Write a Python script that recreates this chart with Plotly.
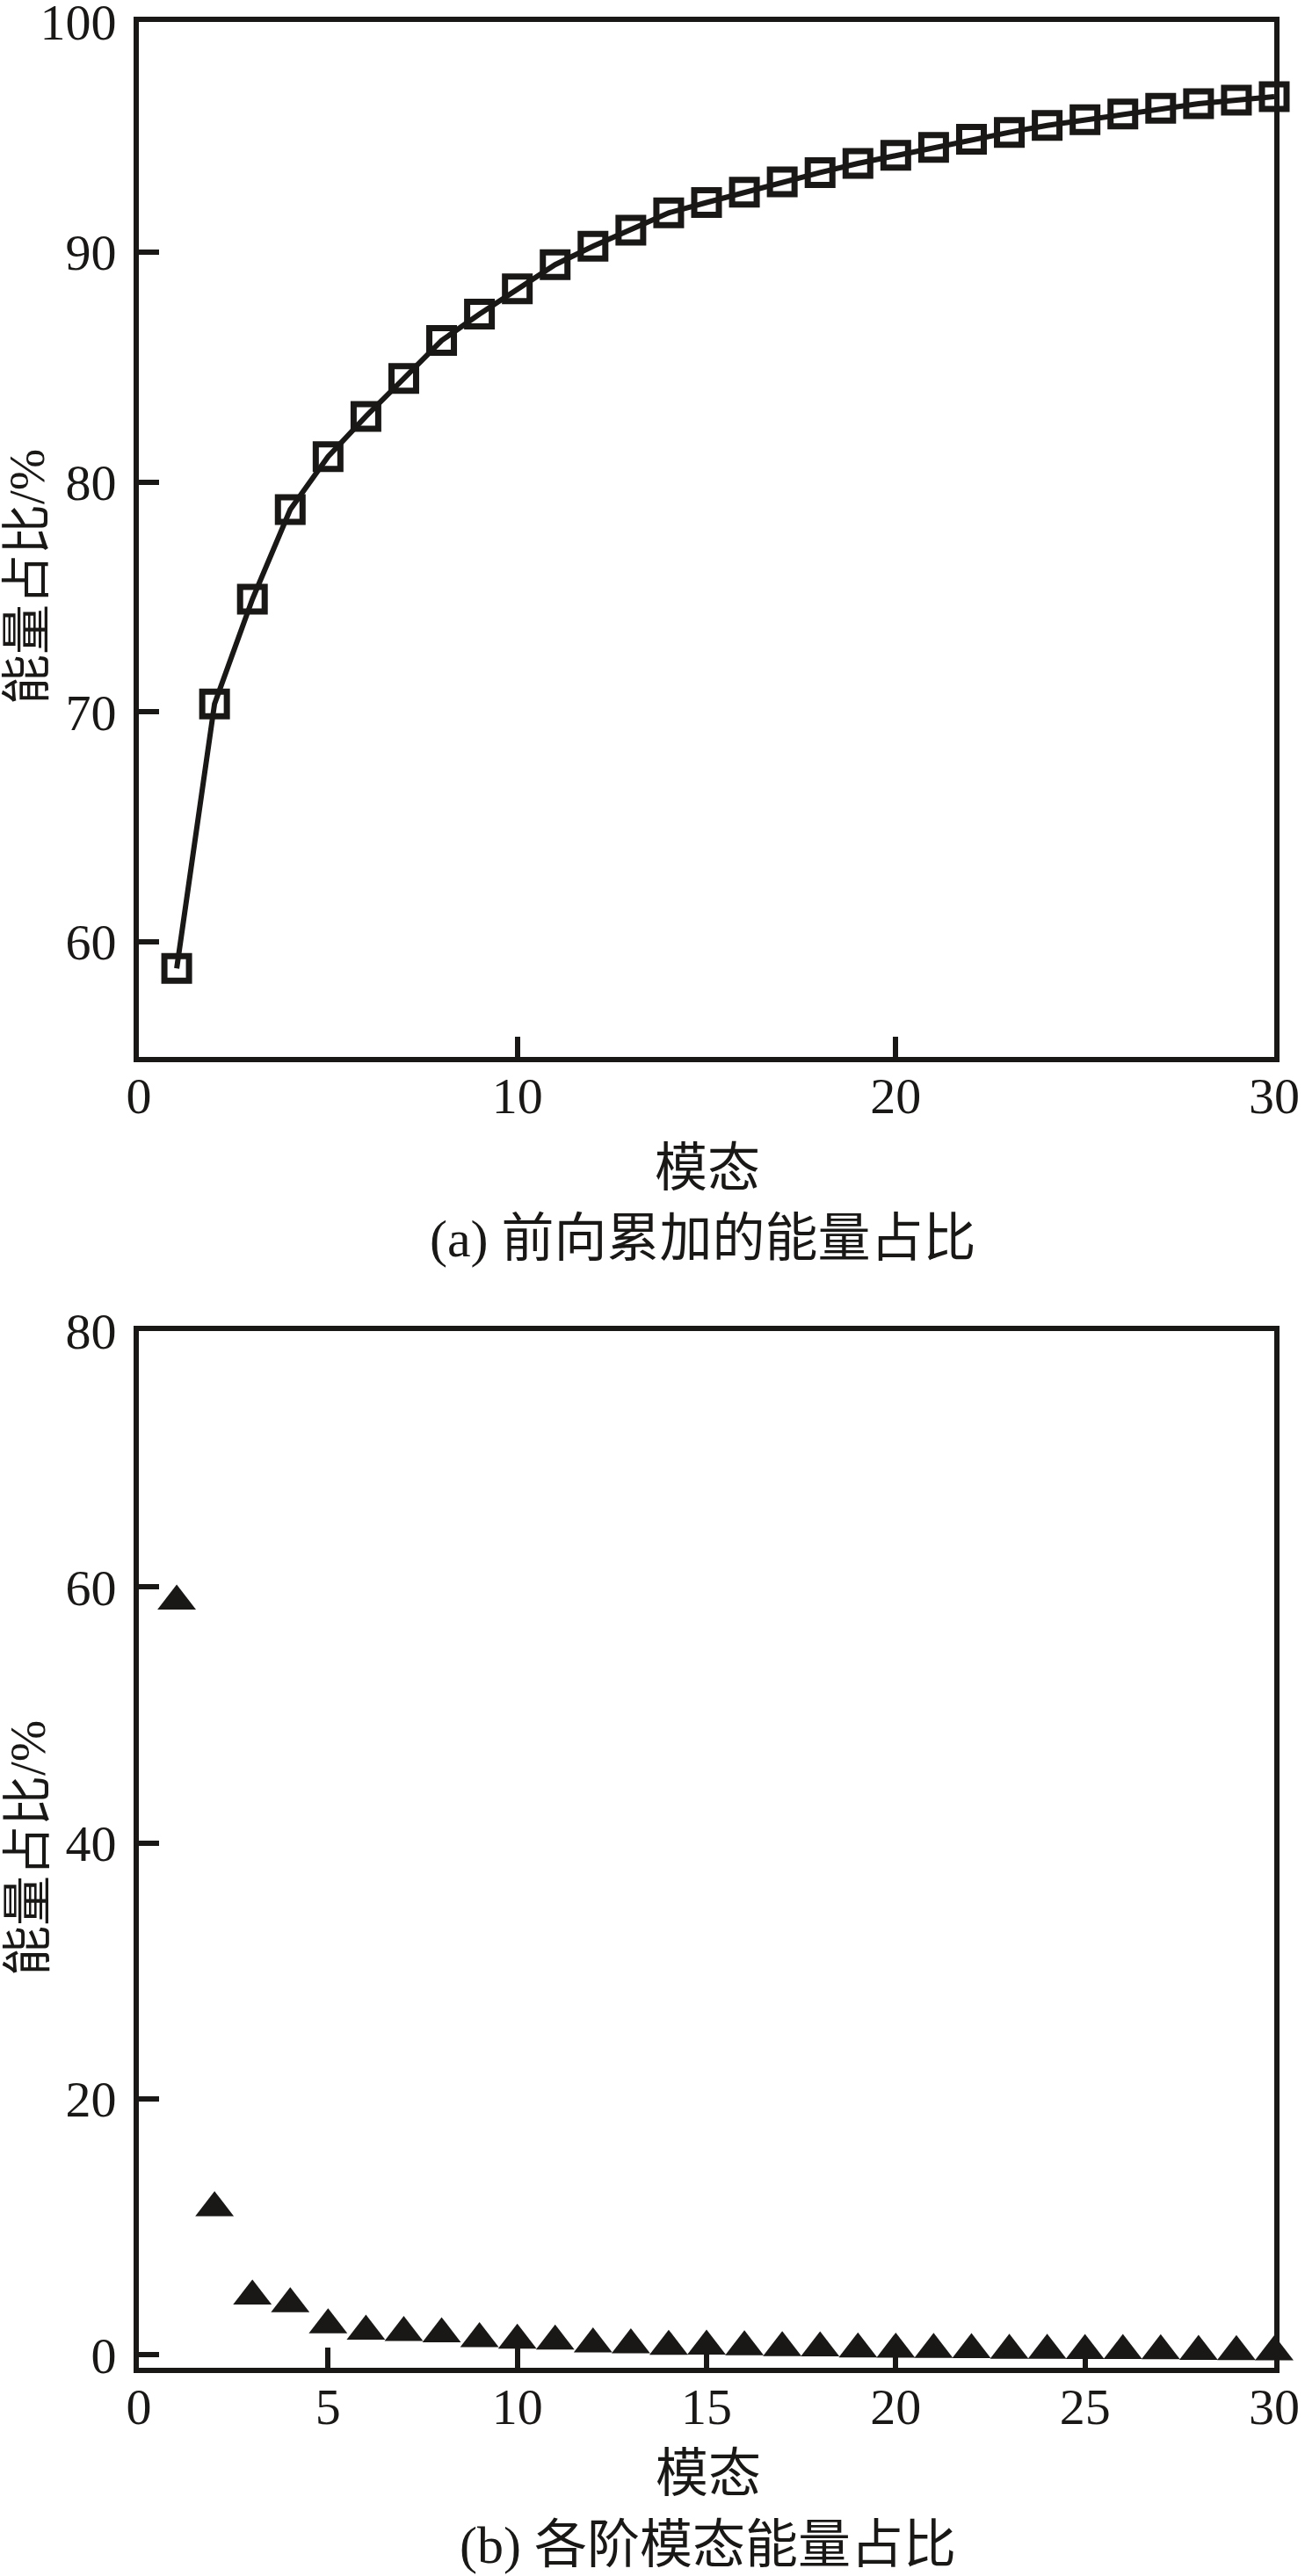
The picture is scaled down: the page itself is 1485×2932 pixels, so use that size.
import plotly.graph_objects as go

# ---------------- data ----------------
modes = list(range(1, 31))
cumulative_energy = [58.85, 70.35, 74.9, 78.8, 81.1, 82.85, 84.5, 86.15, 87.3, 88.4,
                     89.45, 90.25, 90.95, 91.7, 92.15, 92.6, 93.05, 93.45, 93.85, 94.2,
                     94.55, 94.9, 95.2, 95.5, 95.75, 96.0, 96.25, 96.45, 96.6, 96.75]
mode_energy = [58.9, 11.5, 4.6, 4.0, 2.35, 1.85, 1.75, 1.65, 1.26, 1.15,
               1.08, 0.86, 0.78, 0.67, 0.68, 0.63, 0.56, 0.55, 0.46, 0.45,
               0.42, 0.41, 0.36, 0.35, 0.34, 0.33, 0.32, 0.27, 0.25, 0.24]

top_yticks = [60, 70, 80, 90, 100]
top_xticks = [0, 10, 20, 30]
bot_yticks = [0, 20, 40, 60, 80]
bot_xticks = [0, 5, 10, 15, 20, 25, 30]

x_title = "模态"
y_title = "能量占比/%"
caption_a = "(a) 前向累加的能量占比"
caption_b = "(b) 各阶模态能量占比"

# ---------------- layout ----------------
W, H = 1485, 2932
INK = "#1a1817"
SERIF = "Liberation Serif, Times New Roman, serif"
MIXED = "Liberation Serif, Noto Sans CJK SC, serif"


def px_x(p):
    return p / W


def px_y(p):
    return 1 - p / H


fig = go.Figure()

fig.add_trace(go.Scatter(
    x=modes, y=cumulative_energy, mode="lines+markers",
    line=dict(color=INK, width=6),
    marker=dict(symbol="square-open", size=28, color=INK, line=dict(color=INK, width=7)),
    xaxis="x", yaxis="y", showlegend=False, cliponaxis=False,
))

fig.add_trace(go.Scatter(
    x=modes, y=mode_energy, mode="markers",
    marker=dict(symbol="triangle-up", size=38, color=INK),
    xaxis="x2", yaxis="y2", showlegend=False, cliponaxis=False,
))

axis_common = dict(
    showline=True, linecolor=INK, linewidth=6, mirror=True,
    ticks="inside", ticklen=23, tickwidth=6, tickcolor=INK,
    showgrid=False, zeroline=False, automargin=False,
    ticklabeloverflow="allow",
    tickfont=dict(family=SERIF, size=58, color=INK),
)

xdom = [px_x(158), px_x(1450)]

fig.update_layout(
    width=W, height=H,
    margin=dict(l=0, r=0, t=0, b=0),
    paper_bgcolor="white", plot_bgcolor="white",
    xaxis=dict(domain=xdom, range=[0, 30], tickvals=top_xticks, anchor="y",
               ticklabelstandoff=-12, **axis_common),
    yaxis=dict(domain=[px_y(1203), px_y(25)], range=[55, 100], tickvals=top_yticks,
               anchor="x", ticklabelstandoff=8, **axis_common),
    xaxis2=dict(domain=xdom, range=[0, 30], tickvals=bot_xticks, anchor="y2",
                ticklabelstandoff=-12, **axis_common),
    yaxis2=dict(domain=[px_y(2695), px_y(1515)], range=[-1, 80], tickvals=bot_yticks,
                anchor="x2", ticklabelstandoff=8, **axis_common),
)

title_font = dict(family=MIXED, size=60, color=INK)
ytitle_font = dict(family=MIXED, size=57, color=INK)
annos = [
    dict(text=x_title, x=px_x(805), y=px_y(1330), font=title_font),
    dict(text=caption_a, x=px_x(800), y=px_y(1410), font=title_font),
    dict(text=x_title, x=px_x(806), y=px_y(2816), font=title_font),
    dict(text=caption_b, x=px_x(805), y=px_y(2897), font=title_font),
    dict(text=y_title, x=px_x(31), y=px_y(657), textangle=-90, font=ytitle_font),
    dict(text=y_title, x=px_x(31), y=px_y(2104), textangle=-90, font=ytitle_font),
]
for a in annos:
    fig.add_annotation(xref="paper", yref="paper", showarrow=False,
                       xanchor="center", yanchor="middle", **a)

fig.write_html(
    "out.html",
    config={"displayModeBar": False},
    post_script="document.body.style.margin='0';document.body.style.overflow='hidden';",
)
